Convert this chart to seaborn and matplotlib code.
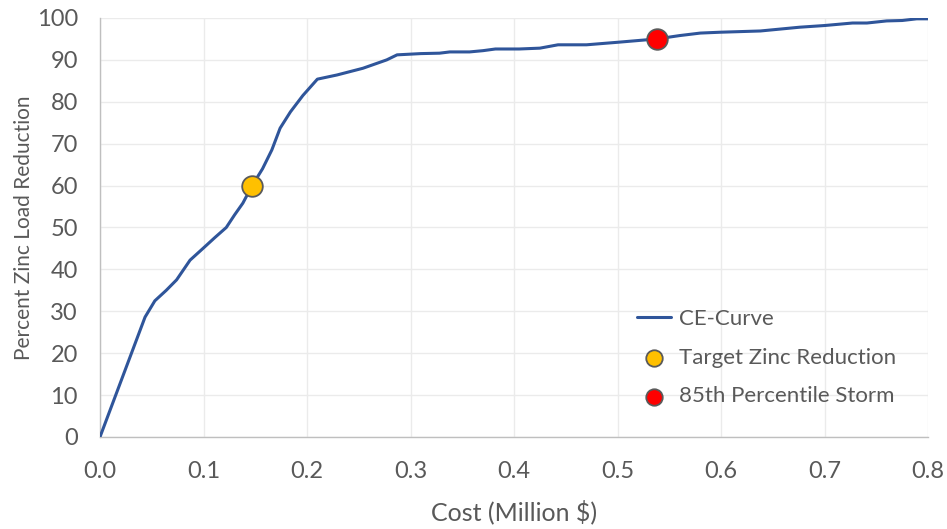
import matplotlib
matplotlib.use("Agg")
import matplotlib.pyplot as plt
import seaborn as sns
import pandas as pd

# Cost-effectiveness curve: cost (million $) vs. percent zinc load reduction
cost = [0.0, 0.0435, 0.053, 0.064, 0.074, 0.087, 0.0995,
        0.111, 0.122, 0.130, 0.138, 0.147, 0.157, 0.166, 0.174, 0.184, 0.196,
        0.21, 0.229, 0.254, 0.277, 0.287, 0.310, 0.328, 0.338, 0.357, 0.370,
        0.382, 0.405, 0.425, 0.4425, 0.47, 0.50, 0.538, 0.56, 0.58, 0.599,
        0.638, 0.676, 0.70, 0.727, 0.741, 0.76, 0.775, 0.789, 0.80]
reduction = [0.0, 28.6, 32.5, 35.0, 37.5, 42.2, 45.0,
             47.6, 50.0, 53.0, 55.8, 60.0, 64.0, 68.5, 73.7, 77.6, 81.5,
             85.4, 86.4, 88.0, 90.0, 91.2, 91.5, 91.6, 91.9, 91.9, 92.2,
             92.6, 92.6, 92.8, 93.6, 93.6, 94.2, 95.0, 95.8, 96.4, 96.6,
             96.9, 97.8, 98.2, 98.8, 98.8, 99.3, 99.4, 99.8, 99.8]

target_cost = [0.147]
target_reduction = [60.0]
storm_cost = [0.538]
storm_reduction = [95.0]

df = pd.DataFrame({"cost": cost, "reduction": reduction})

sns.set_theme(style="white")
plt.rcParams["font.family"] = ["Lato", "DejaVu Sans"]

fig = plt.figure(figsize=(9.47, 5.29), dpi=100)
ax = fig.add_axes([0.1056, 0.174, 0.8744, 0.792])

grid_c = "#ebebeb"
text_c = "#595959"

sns.lineplot(data=df, x="cost", y="reduction", ax=ax, color="#2F559A",
             linewidth=2.2, label="CE-Curve", zorder=3)
sns.scatterplot(x=target_cost, y=target_reduction, ax=ax, s=220,
                color="#FFC000", edgecolor="#5a5a5a", linewidth=1.3,
                label="Target Zinc Reduction", zorder=4)
sns.scatterplot(x=storm_cost, y=storm_reduction, ax=ax, s=220,
                color="#FF0000", edgecolor="#5a5a5a", linewidth=1.3,
                label="85th Percentile Storm", zorder=4)

ax.set_xlim(0, 0.8)
ax.set_ylim(0, 100)
ax.set_xticks([0.0, 0.1, 0.2, 0.3, 0.4, 0.5, 0.6, 0.7, 0.8])
ax.set_xticklabels(["0.0", "0.1", "0.2", "0.3", "0.4", "0.5", "0.6", "0.7", "0.8"])
ax.set_yticks(range(0, 101, 10))
ax.grid(True, color=grid_c, linewidth=1.0, zorder=0)
ax.set_axisbelow(True)

for side in ["top", "right"]:
    ax.spines[side].set_visible(False)
for side in ["left", "bottom"]:
    ax.spines[side].set_color("#bfbfbf")
    ax.spines[side].set_linewidth(1.0)

ax.tick_params(axis="both", length=0, labelsize=17, colors=text_c)
ax.tick_params(axis="y", pad=16)
ax.tick_params(axis="x", pad=17)
ax.set_xlabel("Cost (Million $)", fontsize=18, color=text_c, labelpad=13)
ax.set_ylabel("Percent Zinc Load Reduction", fontsize=15, color=text_c, labelpad=2)

leg = ax.legend(loc="lower right", bbox_to_anchor=(0.985, 0.025), frameon=False,
                fontsize=16, labelcolor=text_c, handlelength=1.5,
                labelspacing=0.85, handletextpad=0.35, markerscale=0.8)

fig.savefig("out.png", dpi=100)
